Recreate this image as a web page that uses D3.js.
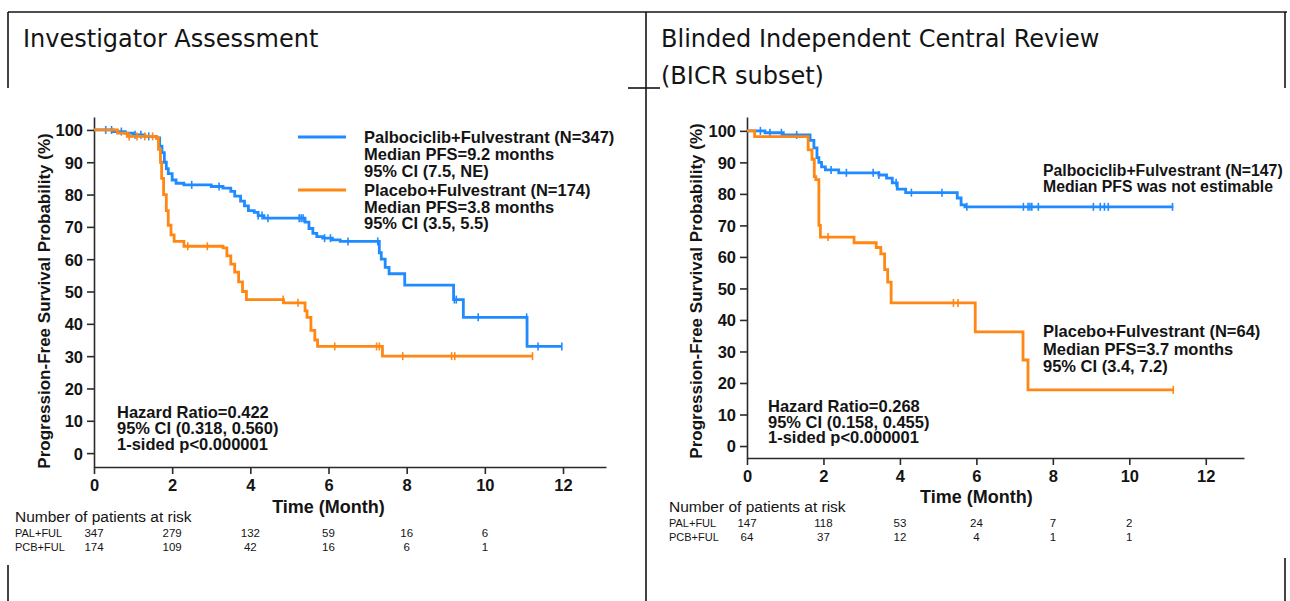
<!DOCTYPE html>
<html>
<head>
<meta charset="utf-8">
<script src="https://cdn.jsdelivr.net/npm/d3@7"></script>
<style>
  html, body { margin: 0; padding: 0; background: #fff; }
  svg { display: block; }
</style>
</head>
<body>
<svg id="chart" width="1290" height="601"></svg>
<script>
// ---- shared tick values ----
const monthTicks = [0, 2, 4, 6, 8, 10, 12];
const pctTicks = [0, 10, 20, 30, 40, 50, 60, 70, 80, 90, 100];
const riskTimes = [0, 2, 4, 6, 8, 10];

// ---- Investigator assessment: KM steps [month, % progression-free] ----
const iaPalSteps = [[0,100],[0.5,99.5],[0.8,99],[1.0,98.5],[1.3,98],[1.6,97.5],[1.68,95],[1.74,93],[1.8,90],[1.85,88],[1.9,86.5],[2.0,84.5],[2.1,83.5],[2.3,83],[3.0,82.5],[3.3,82],[3.5,81],[3.6,79.5],[3.75,78],[3.85,76.5],[3.95,75],[4.1,74.5],[4.2,73.5],[4.35,72.7],[5.4,71.5],[5.5,69.5],[5.6,68],[5.7,67],[5.85,66.5],[6.1,66],[6.3,65.5],[7.3,62],[7.35,60],[7.45,57.5],[7.55,55.5],[7.95,52],[9.2,47.5],[9.45,42],[11.08,33]];
const iaPalEnd = 11.97;
const iaPalCensor = [0.3,0.45,0.7,1.05,1.2,1.4,2.5,3.2,4.2,4.3,4.45,5.25,5.3,5.35,5.9,6.05,6.5,7.26,9.22,9.27,9.83,11.07,11.36,11.97];

const iaPcbSteps = [[0,100],[0.6,99],[0.85,98],[1.6,97.5],[1.65,94],[1.7,90],[1.73,85],[1.78,80],[1.85,75],[1.9,70.5],[1.97,67.5],[2.05,65.5],[2.3,64],[3.3,63.5],[3.4,61],[3.5,58.5],[3.6,56],[3.7,53],[3.8,50],[3.9,47.5],[4.85,46.5],[5.4,44],[5.45,42],[5.55,38],[5.65,35],[5.72,33],[7.38,30]];
const iaPcbEnd = 11.22;
const iaPcbCensor = [0.9,1.1,1.3,1.5,2.4,2.9,4.84,5.22,6.16,7.23,7.3,7.9,9.15,9.23,11.22];

const iaRiskPal = [347, 279, 132, 59, 16, 6];
const iaRiskPcb = [174, 109, 42, 16, 6, 1];

// ---- Blinded independent central review (BICR subset) ----
const bicrPalSteps = [[0,100],[0.47,99.4],[0.95,98.7],[1.65,97],[1.75,94.6],[1.83,91.5],[1.88,90],[1.95,88.6],[2.05,87.6],[2.4,86.7],[3.45,86],[3.65,85],[3.8,83.5],[3.93,81.5],[4.15,80.4],[5.5,78.7],[5.6,76.5],[5.7,75.9]];
const bicrPalEnd = 11.15;
const bicrPalCensor = [0.35,0.6,0.9,1.3,2.2,2.6,3.3,3.45,3.9,4.3,5.1,5.75,7.23,7.35,7.4,7.45,7.62,9.06,9.24,9.35,9.45,11.13];

const bicrPcbSteps = [[0,100],[0.2,98.2],[1.6,94],[1.7,91],[1.76,85.5],[1.8,84.5],[1.88,70],[1.92,66.3],[2.8,64.5],[3.38,63],[3.5,61],[3.6,56],[3.68,52],[3.77,45.4],[5.97,36.2],[7.22,27.3],[7.35,17.8]];
const bicrPcbEnd = 11.15;
const bicrPcbCensor = [2.12,5.4,5.52,11.15];

const bicrRiskPal = [147, 118, 53, 24, 7, 2];
const bicrRiskPcb = [64, 37, 12, 4, 1, 1];

// ---- text ----
const iaLegend = [
  ["Palbociclib+Fulvestrant (N=347)", "Median PFS=9.2 months", "95% CI (7.5, NE)"],
  ["Placebo+Fulvestrant (N=174)", "Median PFS=3.8 months", "95% CI (3.5, 5.5)"]
];
const iaHazard = ["Hazard Ratio=0.422", "95% CI (0.318, 0.560)", "1-sided p<0.000001"];
const bicrPalNote = ["Palbociclib+Fulvestrant (N=147)", "Median PFS was not estimable"];
const bicrPcbNote = ["Placebo+Fulvestrant (N=64)", "Median PFS=3.7 months", "95% CI (3.4, 7.2)"];
const bicrHazard = ["Hazard Ratio=0.268", "95% CI (0.158, 0.455)", "1-sided p<0.000001"];
const armLabels = ["PAL+FUL", "PCB+FUL"];

const BLUE = "#1f8bff";
const ORANGE = "#ff8714";
const INK = "#141414";
const SANS = "'Liberation Sans', Arial, sans-serif";

const svg = d3.select("#chart");
svg.append("rect").attr("width", 1290).attr("height", 601).attr("fill", "#fff");

// ---- frame lines around the two panels ----
const frame = svg.append("g").attr("stroke", INK).attr("stroke-width", 1.6).attr("fill", "none");
[[8,12,1287,12],[8,12,8,88],[8,565,8,601],[646,12,646,601],[628,88,660,88],[1285,12,1285,88],[1285,558,1285,601]]
  .forEach(([x1,y1,x2,y2]) => frame.append("line").attr("x1",x1).attr("y1",y1).attr("x2",x2).attr("y2",y2));

svg.append("text").attr("x", 23).attr("y", 47)
  .attr("font-family", "'DejaVu Sans', Verdana, sans-serif").attr("font-size", 24).attr("fill", INK)
  .text("Investigator Assessment");
const t2 = svg.append("text").attr("font-family", "'DejaVu Sans', Verdana, sans-serif").attr("font-size", 24).attr("fill", INK);
t2.append("tspan").attr("x", 661).attr("y", 47).text("Blinded Independent Central Review");
t2.append("tspan").attr("x", 661).attr("y", 84).text("(BICR subset)");

// step lookup: survival value in effect at time t
function valueAt(steps, t) {
  let v = steps[0][1];
  for (const [m, s] of steps) { if (m <= t) v = s; else break; }
  return v;
}

function drawPanel(p) {
  const g = svg.append("g");
  const x = d3.scaleLinear().domain([0, p.xMax]).range(p.xRange);
  const y = d3.scaleLinear().domain([p.yMin, p.yMax]).range(p.yRange);

  // axes
  const xAxis = g.append("g").attr("transform", `translate(0,${p.yRange[0]})`)
    .call(d3.axisBottom(x).tickValues(monthTicks).tickSize(7).tickSizeOuter(0).tickPadding(5).tickFormat(d3.format("d")));
  const yAxis = g.append("g").attr("transform", `translate(${p.xRange[0]},0)`)
    .call(d3.axisLeft(y).tickValues(pctTicks).tickSize(7).tickSizeOuter(0).tickPadding(4).tickFormat(d3.format("d")));
  [xAxis, yAxis].forEach(a => {
    a.selectAll("path, line").attr("stroke", "#2a2a2a").attr("stroke-width", 1.6);
    a.selectAll("text").attr("font-family", SANS).attr("font-weight", "bold")
      .attr("font-size", 16.5).attr("fill", INK);
  });
  yAxis.selectAll("text").attr("dy", "0.36em");

  g.append("text").attr("transform", `translate(${p.yLabelX},${p.yLabelY}) rotate(-90)`)
    .attr("text-anchor", "middle").attr("font-family", SANS).attr("font-weight", "bold")
    .attr("font-size", 17).attr("fill", INK).text("Progression-Free Survival Probability (%)");
  g.append("text").attr("x", x(6)).attr("y", p.xLabelY).attr("text-anchor", "middle")
    .attr("font-family", SANS).attr("font-weight", "bold").attr("font-size", 18).attr("fill", INK)
    .text("Time (Month)");

  // survival curves
  const line = d3.line().x(d => x(d[0])).y(d => y(d[1])).curve(d3.curveStepAfter);
  p.curves.forEach(c => {
    const pts = c.steps.concat([[c.end, c.steps[c.steps.length - 1][1]]]);
    g.append("path").datum(pts).attr("d", line).attr("fill", "none")
      .attr("stroke", c.color).attr("stroke-width", 2.8).attr("stroke-linejoin", "miter");
    g.append("g").selectAll("line").data(c.censor).join("line")
      .attr("x1", t => x(t)).attr("x2", t => x(t))
      .attr("y1", t => y(valueAt(c.steps, t)) - 4).attr("y2", t => y(valueAt(c.steps, t)) + 4)
      .attr("stroke", c.color).attr("stroke-width", 1.6);
  });

  // text blocks
  const block = (lines, bx, by, lh, size) => {
    const t = g.append("text").attr("font-family", SANS).attr("font-weight", "bold")
      .attr("font-size", size).attr("fill", INK);
    lines.forEach((s, i) => t.append("tspan").attr("x", bx).attr("y", by + i * lh).text(s));
  };
  p.notes.forEach(n => {
    if (n.swatch) {
      g.append("line").attr("x1", n.swatch[0]).attr("x2", n.swatch[1])
        .attr("y1", n.y - 6).attr("y2", n.y - 6).attr("stroke", n.swatch[2]).attr("stroke-width", 3);
    }
    block(n.lines, n.x, n.y, n.lh, n.size);
  });

  // number at risk table
  const rt = g.append("g").attr("font-family", SANS).attr("fill", INK);
  rt.append("text").attr("x", p.riskX).attr("y", p.riskY).attr("font-size", 15.5).attr("fill", INK)
    .text("Number of patients at risk");
  [p.riskPal, p.riskPcb].forEach((row, i) => {
    const yy = p.riskY + 15 + i * 13.5;
    rt.append("text").attr("x", p.riskX).attr("y", yy).attr("font-size", 11).attr("fill", INK).text(armLabels[i]);
    rt.selectAll(null).data(row).join("text")
      .attr("x", (d, j) => x(riskTimes[j])).attr("y", yy).attr("text-anchor", "middle")
      .attr("font-size", 11.5).attr("fill", INK).text(d => d);
  });
}

drawPanel({
  xMax: 13.1, xRange: [94, 606],
  yMin: -4.3, yMax: 104, yRange: [467, 117],
  yLabelX: 50, yLabelY: 301, xLabelY: 513,
  curves: [
    { steps: iaPalSteps, end: iaPalEnd, censor: iaPalCensor, color: BLUE },
    { steps: iaPcbSteps, end: iaPcbEnd, censor: iaPcbCensor, color: ORANGE }
  ],
  notes: [
    { lines: iaLegend[0], x: 364, y: 143, lh: 17, size: 16.5, swatch: [298, 346, BLUE] },
    { lines: iaLegend[1], x: 364, y: 196, lh: 16.5, size: 16.5, swatch: [298, 346, ORANGE] },
    { lines: iaHazard, x: 117, y: 418, lh: 16, size: 16.5 }
  ],
  riskX: 15, riskY: 522, riskPal: iaRiskPal, riskPcb: iaRiskPcb
});

drawPanel({
  xMax: 13, xRange: [747, 1244],
  yMin: -3.8, yMax: 104.4, yRange: [458, 117],
  yLabelX: 702, yLabelY: 291, xLabelY: 503,
  curves: [
    { steps: bicrPalSteps, end: bicrPalEnd, censor: bicrPalCensor, color: BLUE },
    { steps: bicrPcbSteps, end: bicrPcbEnd, censor: bicrPcbCensor, color: ORANGE }
  ],
  notes: [
    { lines: bicrPalNote, x: 1043, y: 176, lh: 15.5, size: 15.8 },
    { lines: bicrPcbNote, x: 1043, y: 337, lh: 17.5, size: 16.5 },
    { lines: bicrHazard, x: 768, y: 412, lh: 15.5, size: 16.5 }
  ],
  riskX: 669, riskY: 512, riskPal: bicrRiskPal, riskPcb: bicrRiskPcb
});
</script>
</body>
</html>
